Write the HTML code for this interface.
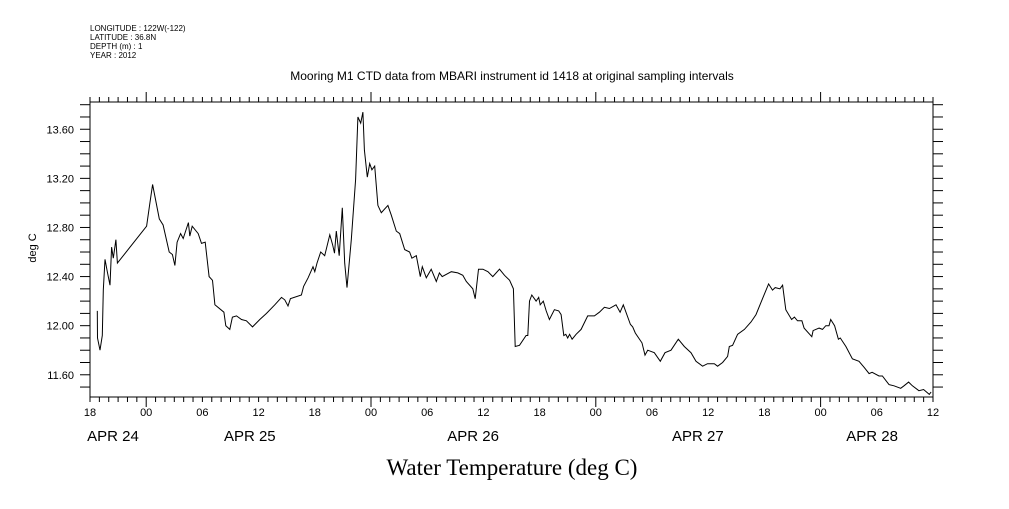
<!DOCTYPE html>
<html><head><meta charset="utf-8"><style>
body{margin:0;background:#fff;}
svg text{font-family:"Liberation Sans",sans-serif;fill:#000;}
</style></head><body>
<svg id="chart" width="1009" height="504" viewBox="0 0 1009 504">
<g font-size="8">
<text x="90" y="31">LONGITUDE : 122W(-122)</text>
<text x="90" y="40">LATITUDE : 36.8N</text>
<text x="90" y="49">DEPTH (m) : 1</text>
<text x="90" y="58">YEAR : 2012</text>
</g>
<text x="512" y="80" font-size="12" text-anchor="middle">Mooring M1 CTD data from MBARI instrument id 1418 at original sampling intervals</text>
<text transform="translate(36,248) rotate(-90)" font-size="11" text-anchor="middle">deg C</text>
<text x="512" y="475" font-size="23" text-anchor="middle" style="font-family:'Liberation Serif',serif">Water Temperature (deg C)</text>
<g id="axes"></g>
<path id="line" fill="none" stroke="#000" stroke-width="1"/>
</svg>
<script>
const hours=[0.78,0.8,1.07,1.31,1.42,1.6,1.85,2.13,2.31,2.49,2.77,2.92,6.04,6.4,6.68,7.4,7.8,8.46,8.8,9.06,9.3,9.67,9.95,10.5,10.66,10.91,11.55,11.9,12.3,12.72,13.08,13.33,14.3,14.5,14.93,15.2,15.64,16.17,16.7,17.35,18.13,18.84,19.73,20.44,20.8,21.14,21.4,22.57,22.8,23.28,23.81,24.0,24.24,24.63,25.06,25.6,25.9,26.1,26.3,26.6,26.94,27.19,27.44,27.9,28.36,28.6,28.9,29.14,29.3,29.6,29.86,30.1,30.4,30.74,31.1,31.8,32.17,32.7,33.06,33.6,34.12,34.37,34.84,35.26,35.48,35.9,36.43,36.97,37.3,37.6,38.57,39.27,39.8,40.17,40.87,41.12,41.48,41.95,42.48,43.0,43.72,44.25,44.8,45.2,45.4,45.85,46.56,46.74,46.92,47.17,47.63,47.9,48.06,48.4,48.7,49.05,49.58,50.04,50.3,50.58,50.8,51.0,51.2,51.47,51.9,52.43,53.14,53.85,54.38,54.92,55.45,56.16,56.59,56.94,57.69,57.94,58.22,58.93,59.25,59.54,60.25,60.89,61.39,62.03,62.81,63.45,64.16,64.7,65.4,65.93,66.65,67.0,67.54,68.07,68.25,68.6,69.14,69.86,70.57,71.1,71.8,72.45,72.87,73.15,73.65,73.94,74.29,74.9,75.2,75.53,76.0,76.24,77.06,77.2,77.84,78.2,78.55,78.9,79.08,79.5,79.9,80.1,80.7,81.4,82.1,82.65,83.18,83.5,84.24,84.6,85.3,85.84,86.55,86.9,87.4,87.8,88.5,89.0,89.6,89.8];
const temps=[12.12,11.9,11.8,11.92,12.29,12.54,12.44,12.33,12.64,12.55,12.7,12.51,12.81,13.0,13.15,12.87,12.82,12.6,12.58,12.49,12.68,12.75,12.71,12.84,12.73,12.81,12.75,12.67,12.68,12.4,12.37,12.17,12.11,12.0,11.97,12.07,12.08,12.05,12.04,11.99,12.05,12.1,12.17,12.23,12.21,12.16,12.22,12.25,12.32,12.39,12.48,12.44,12.51,12.6,12.57,12.74,12.66,12.59,12.77,12.57,12.96,12.51,12.31,12.7,13.19,13.7,13.65,13.74,13.43,13.21,13.32,13.27,13.3,12.98,12.92,12.98,12.9,12.77,12.75,12.62,12.6,12.55,12.57,12.4,12.48,12.39,12.46,12.36,12.43,12.4,12.44,12.43,12.41,12.36,12.3,12.22,12.46,12.46,12.44,12.4,12.46,12.41,12.37,12.3,11.83,11.84,11.92,11.92,12.2,12.25,12.2,12.23,12.17,12.2,12.12,12.05,12.13,12.12,12.09,11.92,11.93,11.9,11.93,11.89,11.93,11.97,12.08,12.08,12.11,12.15,12.14,12.17,12.11,12.17,12.01,11.99,11.94,11.86,11.76,11.8,11.78,11.71,11.78,11.8,11.89,11.83,11.78,11.71,11.67,11.69,11.69,11.67,11.7,11.75,11.83,11.84,11.93,11.97,12.03,12.09,12.22,12.34,12.29,12.31,12.3,12.33,12.13,12.05,12.07,12.04,12.04,11.98,11.91,11.96,11.98,11.97,12.0,12.0,12.05,12.0,11.89,11.9,11.83,11.73,11.71,11.66,11.61,11.62,11.59,11.59,11.52,11.51,11.49,11.51,11.54,11.51,11.47,11.48,11.44,11.46];
const yTicks=["11.60","12.00","12.40","12.80","13.20","13.60"];
const xTickLabels=["18","00","06","12","18","00","06","12","18","00","06","12","18","00","06","12"];
const dateLabels=["APR 24","APR 25","APR 26","APR 27","APR 28"];
const dateHours=[2.45,17.06,40.9,64.9,83.5];
const L=90,R=933,T=102,B=397,H0=0,H1=90,V0=11.419,V1=13.822;
const X=h=>L+(h-H0)/(H1-H0)*(R-L);
const Y=v=>B-(v-V0)/(V1-V0)*(B-T);
const NS="http://www.w3.org/2000/svg";
const ax=document.getElementById('axes');
function mk(tag,attrs,parent){const e=document.createElementNS(NS,tag);for(const k in attrs)e.setAttribute(k,attrs[k]);(parent||ax).appendChild(e);return e;}
const fr=mk('rect',{x:L,y:T,width:R-L,height:B-T,fill:'none',stroke:'#000','stroke-width':1});


for(let v=11.5;v<=13.81;v+=0.1){
 const y=Y(v);
 const t1=mk('line',{x1:L-10,x2:L,y1:y,y2:y,stroke:'#000'});
 
 
 const t2=mk('line',{x1:R,x2:R+10,y1:y,y2:y,stroke:'#000'});
 
 
}
yTicks.forEach(s=>{const t=mk('text',{x:74,y:Y(+s)+4,'font-size':11,'text-anchor':'end'});t.textContent=s;
 
 });
for(let h=0;h<=90;h++){
 const x=X(h),major=(h%24===6);
 const a=mk('line',{x1:x,x2:x,y1:T,y2:T-(major?10:5),stroke:'#000'});
 
 
 const b=mk('line',{x1:x,x2:x,y1:B,y2:B+(major?10:5),stroke:'#000'});
 
 
}
xTickLabels.forEach((s,i)=>{const t=mk('text',{x:X(i*6),y:416,'font-size':11,'text-anchor':'middle'});t.textContent=s;
 
 });
dateLabels.forEach((s,i)=>{const t=mk('text',{x:X(dateHours[i]),y:441,'font-size':15,'text-anchor':'middle'});t.textContent=s;
 
 });
document.getElementById('line').setAttribute('d',hours.map((h,i)=>(i?'L':'M')+X(h).toFixed(1)+' '+Y(temps[i]).toFixed(1)).join(''));
</script>
</body></html>
